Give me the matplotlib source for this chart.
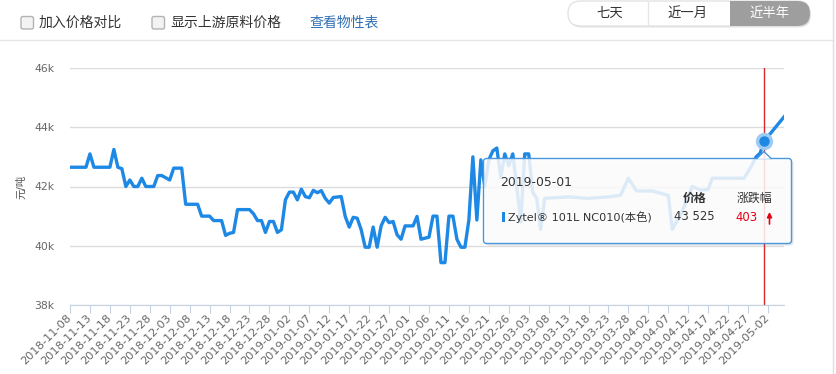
import numpy as np
import matplotlib.pyplot as plt
from matplotlib.patches import FancyBboxPatch, Rectangle, Polygon

plt.rcParams['font.family'] = ['DejaVu Sans', 'Noto Sans CJK SC']

# price series (vertices), yuan / ton
dates = [
    '2018-11-08', '2018-11-12', '2018-11-13', '2018-11-14', '2018-11-18', '2018-11-19',
    '2018-11-20', '2018-11-21', '2018-11-22', '2018-11-23', '2018-11-24', '2018-11-25',
    '2018-11-26', '2018-11-27', '2018-11-29', '2018-11-30', '2018-12-01', '2018-12-03',
    '2018-12-04', '2018-12-06', '2018-12-07', '2018-12-10', '2018-12-11', '2018-12-13',
    '2018-12-14', '2018-12-16', '2018-12-17', '2018-12-18', '2018-12-19', '2018-12-20',
    '2018-12-23', '2018-12-24', '2018-12-25', '2018-12-26', '2018-12-27', '2018-12-28',
    '2018-12-29', '2018-12-30', '2018-12-31', '2019-01-01', '2019-01-02', '2019-01-03',
    '2019-01-04', '2019-01-05', '2019-01-06', '2019-01-07', '2019-01-08', '2019-01-09',
    '2019-01-10', '2019-01-11', '2019-01-12', '2019-01-13', '2019-01-15', '2019-01-16',
    '2019-01-17', '2019-01-18', '2019-01-19', '2019-01-20', '2019-01-21', '2019-01-22',
    '2019-01-23', '2019-01-24', '2019-01-25', '2019-01-26', '2019-01-27', '2019-01-28',
    '2019-01-29', '2019-01-30', '2019-01-31', '2019-02-02', '2019-02-03', '2019-02-04',
    '2019-02-06', '2019-02-07', '2019-02-08', '2019-02-09', '2019-02-10', '2019-02-11',
    '2019-02-12', '2019-02-13', '2019-02-14', '2019-02-15', '2019-02-16', '2019-02-17',
    '2019-02-18', '2019-02-19', '2019-02-20', '2019-02-21', '2019-02-22', '2019-02-23',
    '2019-02-24', '2019-02-25', '2019-02-26', '2019-02-27', '2019-02-28', '2019-03-01',
    '2019-03-02', '2019-03-03', '2019-03-04', '2019-03-05', '2019-03-06', '2019-03-07',
    '2019-03-13', '2019-03-18', '2019-03-23', '2019-03-26', '2019-03-28', '2019-03-30',
    '2019-04-03', '2019-04-07', '2019-04-08', '2019-04-09', '2019-04-10', '2019-04-13',
    '2019-04-15', '2019-04-17', '2019-04-18', '2019-04-26', '2019-04-28', '2019-04-29',
    '2019-04-30', '2019-05-01', '2019-05-06',
]
prices = [
    42650, 42650, 43100, 42650, 42650, 43250,
    42650, 42600, 42000, 42220, 42000, 42000,
    42280, 42000, 42000, 42370, 42370, 42220,
    42620, 42620, 41400, 41400, 41000, 41000,
    40850, 40850, 40350, 40420, 40450, 41220,
    41220, 41080, 40850, 40850, 40450, 40820,
    40820, 40450, 40540, 41550, 41810, 41810,
    41550, 41910, 41660, 41620, 41870, 41790,
    41860, 41600, 41440, 41630, 41660, 40990,
    40630, 40960, 40930, 40540, 39950, 39950,
    40630, 39950, 40670, 40960, 40780, 40820,
    40370, 40220, 40670, 40670, 40990, 40220,
    40290, 41000, 41000, 39430, 39430, 41000,
    41000, 40220, 39950, 39950, 40870, 43000,
    40870, 42900, 42000, 42900, 43200, 43300,
    42300, 43100, 42700, 43100, 42000, 40800,
    43100, 43100, 41800, 41600, 40550, 41600,
    41650, 41600, 41650, 41700, 42280, 41850,
    41850, 41700, 40550, 40800, 41000, 42000,
    41880, 41900, 42280, 42280, 42730, 43000,
    43122, 43525, 44350,
]

start_date = '2018-11-08'
end_date = '2019-05-06'
last_tick = '2019-05-02'
tick_step = 5
yticks = [38000, 40000, 42000, 44000, 46000]

sel_date = '2019-05-01'
sel_price = 43525
sel_change = 403
product = 'Zytel® 101L NC010(本色)'

blue = '#1e88e5'

W, H = 836, 374
fig = plt.figure(figsize=(W / 100, H / 100), dpi=100)

# main chart area (pixel box 70..784 x 68..305)
ax = fig.add_axes([70 / W, 1 - 305 / H, 714 / W, 237 / H])
x = np.array(dates, dtype='datetime64[D]')
ax.plot(x, prices, color=blue, lw=2.4, zorder=3)
ax.set_xlim(np.datetime64(start_date), np.datetime64(end_date))
ax.set_ylim(yticks[0], yticks[-1])

sel_x = np.datetime64(sel_date)
ax.axvline(sel_x, color='#d42a2a', lw=1, zorder=2)
ax.plot(sel_x, sel_price, 'o', ms=12.5, color='#9fcbf3', mec='none', zorder=4)
ax.plot(sel_x, sel_price, 'o', ms=7.5, color=blue, mec='none', zorder=5)

ticks = np.arange(np.datetime64(start_date), np.datetime64(last_tick) + 1,
                  np.timedelta64(tick_step, 'D'))
ax.set_xticks(ticks)
ax.set_xticklabels([str(t) for t in ticks])
ax.tick_params(axis='x', length=6, color='#c3d2e4', labelsize=8.2,
               labelcolor='#666666', pad=2)
for lbl in ax.get_xticklabels():
    lbl.set_rotation(45)
    lbl.set_ha('right')
    lbl.set_va('center')
    lbl.set_rotation_mode('anchor')

ax.set_yticks(yticks)
ax.set_yticklabels([f'{v // 1000}k' for v in yticks])
ax.tick_params(axis='y', length=0, labelsize=7.8, labelcolor='#666666', pad=11)
ax.yaxis.grid(True, color='#dcdcdc', lw=1)
ax.set_axisbelow(True)
for s in ['top', 'right', 'left']:
    ax.spines[s].set_visible(False)
ax.spines['bottom'].set_color('#c3d2e4')
ax.spines['bottom'].set_zorder(2.5)

fig.text(21 / W, 1 - 187 / H, '元/吨', rotation=90, ha='center', va='center',
         fontsize=7.5, color='#555555')

# overlay in pixel coordinates for the page chrome and tooltip
ov = fig.add_axes([0, 0, 1, 1])
ov.set_xlim(0, W)
ov.set_ylim(H, 0)
ov.axis('off')
ov.set_zorder(5)
ov.patch.set_alpha(0)

# top controls
for bx, label in [(21, '加入价格对比'), (152, '显示上游原料价格')]:
    ov.add_patch(FancyBboxPatch((bx, 16.5), 12.5, 12.5,
                                boxstyle='round,pad=0,rounding_size=2',
                                fc='#f3f3f3', ec='#b3b3b3', lw=1))
    ov.text(bx + 18, 22.5, label, va='center', fontsize=10, color='#333333')
ov.text(309, 22.5, '查看物性表', va='center', fontsize=10, color='#2f6fb3')

ov.add_patch(FancyBboxPatch((569, 2.5), 242, 25, boxstyle='round,pad=0,rounding_size=12.5',
                            fc='#e2e2e2', ec='none'))
ov.add_patch(FancyBboxPatch((568, 1), 242, 25, boxstyle='round,pad=0,rounding_size=12.5',
                            fc='white', ec='#e3e3e3', lw=1))
ov.add_patch(FancyBboxPatch((730, 1), 80, 25, boxstyle='round,pad=0,rounding_size=12.5',
                            fc='#9e9e9e', ec='none'))
ov.add_patch(Rectangle((730, 1), 15, 25, fc='#9e9e9e', ec='none'))
ov.plot([648, 648], [2, 25], color='#e6e6e6', lw=1)
ov.text(610, 13.5, '七天', ha='center', va='center', fontsize=9.6, color='#333333')
ov.text(688, 13.5, '近一月', ha='center', va='center', fontsize=9.6, color='#333333')
ov.text(770, 13.5, '近半年', ha='center', va='center', fontsize=9.6, color='white')

ov.plot([0, 833], [40, 40], color='#e6e6e6', lw=1)
ov.plot([833, 833], [0, H], color='#dddddd', lw=1)

# tooltip
ov.add_patch(FancyBboxPatch((485.5, 160.5), 308, 85, boxstyle='round,pad=0,rounding_size=3',
                            fc='black', alpha=0.10, ec='none'))
ov.add_patch(FancyBboxPatch((483.5, 158.5), 308, 85, boxstyle='round,pad=0,rounding_size=3',
                            fc=(1, 1, 1, 0.85), ec='#4b97de', lw=1))
ov.add_patch(Polygon([(757, 159), (764, 151.5), (771, 159)], closed=True,
                     fc=(1, 1, 1, 0.85), ec='none'))
ov.plot([757, 764, 771], [158.5, 151.5, 158.5], color='#4b97de', lw=1)

ov.text(500.5, 182, sel_date, va='center', fontsize=8.9, color='#333333')
ov.text(695, 198.5, '价格', ha='center', va='center', fontsize=8.6,
        fontweight='bold', color='#333333')
ov.text(754, 198.5, '涨跌幅', ha='center', va='center', fontsize=8.6, color='#333333')
ov.add_patch(Rectangle((501.5, 211.5), 3, 10, fc=blue, ec='none'))
ov.text(508, 217.5, product, va='center', fontsize=8.1, color='#333333')
ov.text(694.5, 216.5, f'{sel_price:,}'.replace(',', ' '), ha='center', va='center',
        fontsize=8.4, color='#333333')
ov.text(747, 217, str(sel_change), ha='center', va='center', fontsize=8.4, color='#e60012')
ov.annotate('', xy=(769.5, 212), xytext=(769.5, 224),
            arrowprops=dict(arrowstyle='-|>', color='#e60012', lw=1.2,
                            mutation_scale=7, shrinkA=0, shrinkB=0))

fig.savefig('out.png', dpi=100)
